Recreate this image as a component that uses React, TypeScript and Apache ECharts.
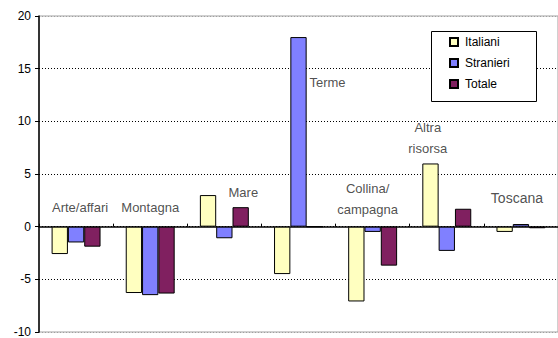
import React, { useEffect, useRef } from "react";
import * as echarts from "echarts";

const categories = ["Arte/affari", "Montagna", "Mare", "Terme", "Collina/\ncampagna", "Altra\nrisorsa", "Toscana"];
const italiani = [-2.6, -6.3, 3.0, -4.5, -7.1, 6.0, -0.5];
const stranieri = [-1.5, -6.5, -1.1, 18.0, -0.5, -2.3, 0.25];
const totale = [-1.9, -6.35, 1.85, 0, -3.7, 1.7, -0.15];
// category label anchors (value units) and horizontal nudges (px)
const labelAnchorY = [1.8, 1.8, 3.2, 13.7, 2.6, 8.4, 2.7];
const labelNudgeX = [4, 0, 19, 29, -5, -19, -4];
const labelFontSize = [13, 13, 13, 13, 13, 13, 14];
const yTicks = { min: -10, max: 20, interval: 5 };

const FONT = "Liberation Sans, Arial, sans-serif";

export default function App() {
  const ref = useRef<HTMLDivElement>(null);
  useEffect(() => {
    if (!ref.current) return;
    const chart = echarts.init(ref.current, undefined, { renderer: "svg" });
    const barStyle = (color: string) => ({ color, borderColor: "#000", borderWidth: 1 });
    chart.setOption({
      animation: false,
      backgroundColor: "#fff",
      textStyle: { fontFamily: FONT },
      grid: {
        left: 39,
        top: 16,
        width: 534,
        height: 321,
        show: true,
        borderColor: "#a0a0a0",
        borderWidth: 1,
        backgroundColor: "transparent",
      },
      graphic: [
        {
          type: "rect",
          z: 10,
          shape: { x: 431.5, y: 31.5, width: 105, height: 70 },
          style: { fill: "#fff", stroke: "#000", lineWidth: 1 },
          silent: true,
        },
      ],
      legend: {
        z: 20,
        data: ["Italiani", "Stranieri", "Totale"],
        orient: "vertical",
        left: 449,
        top: 36,
        padding: 0,
        itemWidth: 8,
        itemHeight: 8,
        itemGap: 9,
        icon: "rect",
        textStyle: { fontSize: 12, color: "#000", fontFamily: FONT, padding: [0, 0, 0, 2] },
      },
      xAxis: {
        type: "category",
        data: categories,
        axisLine: { onZero: true, lineStyle: { color: "#000", width: 1.5 } },
        axisTick: { show: true, inside: true, length: 3, lineStyle: { color: "#000" } },
        axisLabel: { show: false },
        splitLine: { show: false },
      },
      yAxis: {
        type: "value",
        min: yTicks.min,
        max: yTicks.max,
        interval: yTicks.interval,
        axisLine: { show: true, onZero: false, lineStyle: { color: "#000", width: 1.5 } },
        axisTick: { show: true, length: 4, lineStyle: { color: "#000" } },
        axisLabel: { fontSize: 12, color: "#000", margin: 8, fontFamily: FONT },
        splitLine: {
          show: true,
          lineStyle: {
            color: ["#a0a0a0", "#000", "#000", "#000", "#000", "#000", "#a0a0a0"],
            type: [1, 2],
            width: 1,
          },
        },
      },
      series: [
        { name: "Italiani", type: "bar", data: italiani, barGap: "0%", barCategoryGap: "34%", itemStyle: barStyle("#FFFFC0") },
        { name: "Stranieri", type: "bar", data: stranieri, barGap: "0%", barCategoryGap: "34%", itemStyle: barStyle("#8080FF") },
        { name: "Totale", type: "bar", data: totale, barGap: "0%", barCategoryGap: "34%", itemStyle: barStyle("#802060") },
        {
          name: "labels",
          type: "scatter",
          symbolSize: 0,
          silent: true,
          data: categories.map((c, i) => ({
            value: [i, labelAnchorY[i]],
            label: {
              show: true,
              position: "inside",
              formatter: c,
              offset: [labelNudgeX[i], 0],
              fontSize: labelFontSize[i],
              lineHeight: 21,
              color: "#222",
              fontFamily: FONT,
              align: "center",
            },
          })),
        },
      ],
    });
    return () => chart.dispose();
  }, []);
  return (
    <div style={{ position: "fixed", left: 0, top: 0, width: 558, height: 338, overflow: "hidden", background: "#fff" }}>
      <div ref={ref} style={{ width: 558, height: 338 }} />
    </div>
  );
}
